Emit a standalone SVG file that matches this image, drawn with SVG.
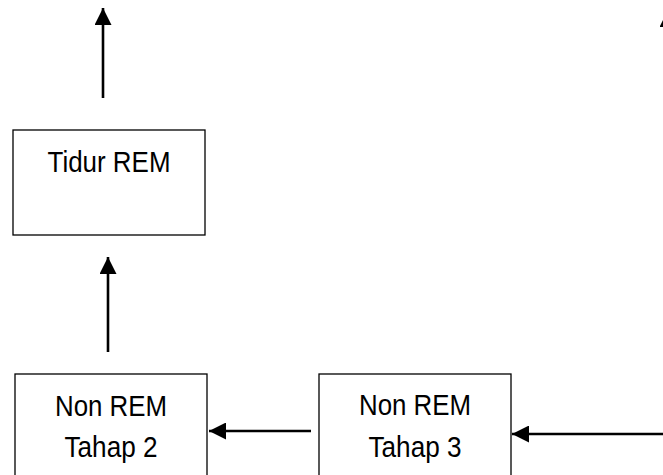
<svg xmlns="http://www.w3.org/2000/svg" width="663" height="475" viewBox="0 0 663 475">
  <style>
    .box { fill: #ffffff; stroke: #000000; stroke-width: 1.3; }
    .lbl { font-family: "Liberation Sans", Arial, sans-serif; font-size: 30px; fill: #000000; text-anchor: middle; }
    .conn { stroke: #000000; stroke-width: 2.6; fill: none; marker-end: url(#head); }
  </style>
  <defs>
    <marker id="head" markerUnits="userSpaceOnUse" markerWidth="17" markerHeight="17" refX="17" refY="8.5" orient="auto" viewBox="0 0 17 17">
      <path d="M0,0 L17,8.5 L0,17 z" fill="#000000"/>
    </marker>
  </defs>
  <rect width="663" height="475" fill="#ffffff"/>

  <g id="connectors">
    <line class="conn" x1="103" y1="98" x2="103" y2="8"/>
    <line class="conn" x1="108" y1="352" x2="108" y2="257"/>
    <line class="conn" x1="311" y1="431" x2="209" y2="431"/>
    <line class="conn" x1="680" y1="434" x2="512" y2="434"/>
    <line class="conn" x1="668" y1="90" x2="668" y2="10"/>
  </g>

  <g id="tidur-rem">
    <rect class="box" x="13" y="130" width="192" height="105"/>
    <text class="lbl" x="109" y="172" textLength="123" lengthAdjust="spacingAndGlyphs">Tidur REM</text>
  </g>

  <g id="nonrem-tahap-2">
    <rect class="box" x="15" y="374" width="192" height="110"/>
    <text class="lbl" x="111" y="416" textLength="112" lengthAdjust="spacingAndGlyphs">Non REM</text>
    <text class="lbl" x="111" y="457" textLength="93" lengthAdjust="spacingAndGlyphs">Tahap 2</text>
  </g>

  <g id="nonrem-tahap-3">
    <rect class="box" x="319" y="374" width="192" height="110"/>
    <text class="lbl" x="415" y="415" textLength="112" lengthAdjust="spacingAndGlyphs">Non REM</text>
    <text class="lbl" x="415" y="457" textLength="93" lengthAdjust="spacingAndGlyphs">Tahap 3</text>
  </g>
</svg>
